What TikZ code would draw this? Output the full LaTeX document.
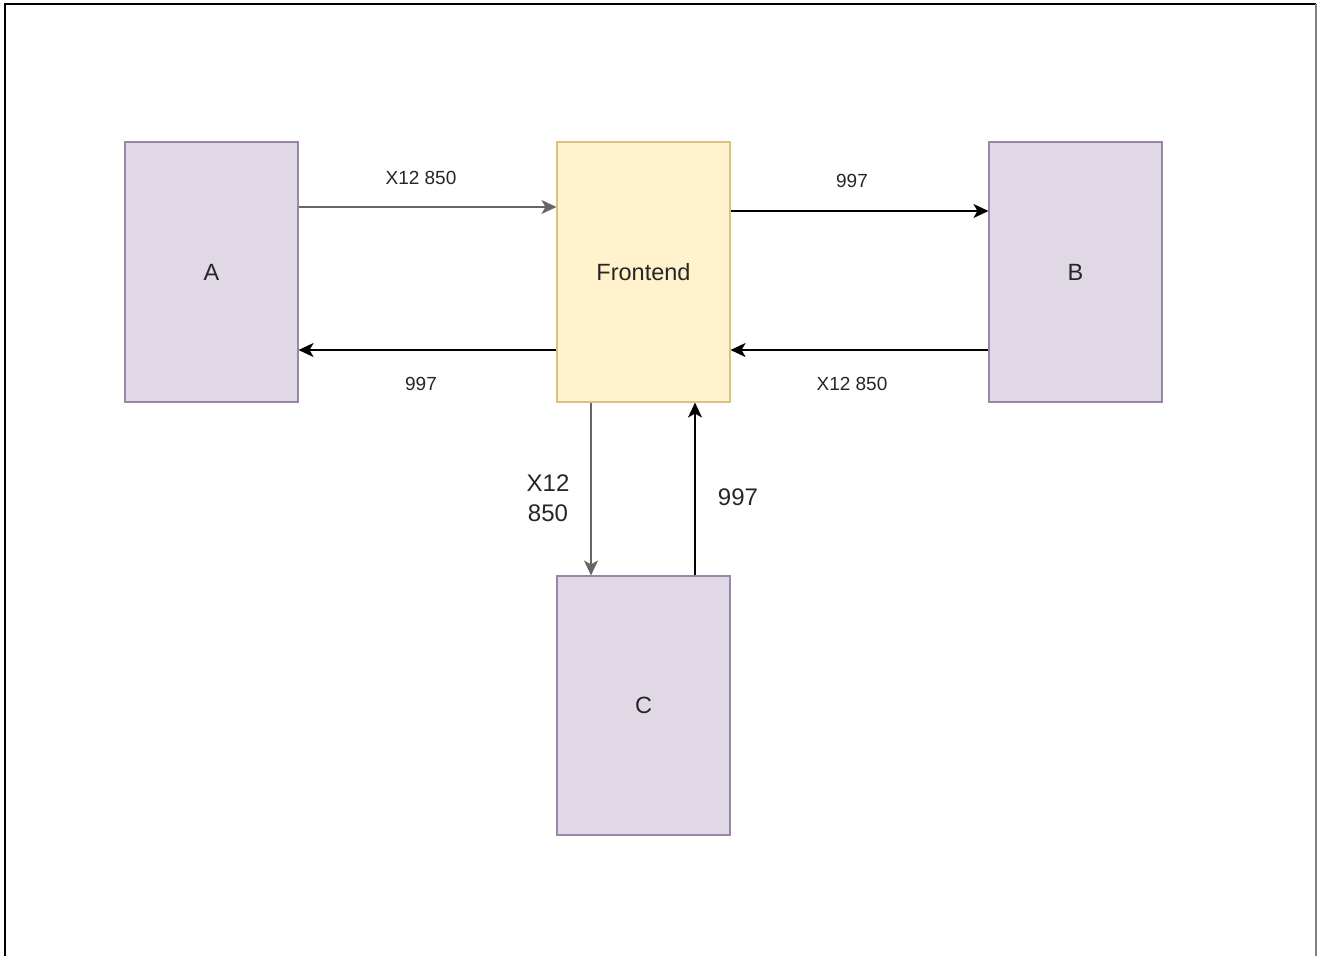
\documentclass[tikz,border=0pt]{standalone}
\usepackage{fontspec}
\setmainfont{Liberation Sans}
\usetikzlibrary{arrows.meta}
\definecolor{sysfill}{HTML}{E1D8E6}
\definecolor{sysline}{HTML}{9A86A8}
\definecolor{hubfill}{HTML}{FFF2CC}
\definecolor{hubline}{HTML}{DCC27A}

\begin{document}
\begin{tikzpicture}[x=1pt,y=-1pt,line width=1.8,
  sys/.style={draw=sysline,fill=sysfill,line width=1.1,minimum width=173pt,minimum height=260pt,inner sep=0pt,font=\fontsize{23.5}{27}\selectfont,text=black!85},
  hub/.style={sys,draw=hubline,fill=hubfill},
  flow/.style={-{Stealth[length=15pt,width=14pt,inset=4pt]}},
  lbl/.style={font=\fontsize{19}{22}\selectfont,text=black!85},
  biglbl/.style={font=\fontsize{24}{30}\selectfont,text=black!85,align=center}]
		\useasboundingbox (0,0) rectangle (1317,956);
		\draw[line width=2] (5,956)--(5,4)--(1316,4);
		\draw[line width=2,gray] (1316,4)--(1316,956);
		% boxes
		\node[sys] (A) at (211.5,272) {A};
		\node[hub] (F) at (643.5,272) {Frontend};
		\node[sys] (B) at (1075.5,272) {B};
		\node[sys,minimum height=259pt] (C) at (643.5,705.5) {C};
		% A <-> Frontend
		\draw[flow,black!60] (A.east |- 0,207)--(F.west |- 0,207);
		\draw[flow] (F.west |- 0,350)--(A.east |- 0,350);
		\node[lbl] (aout) at (421,178) {X12 850};
		\node[lbl] (ain) at (421,384) {997};
		% Frontend <-> B
		\draw[flow] (F.east |- 0,211)--(B.west |- 0,211);
		\draw[flow] (B.west |- 0,350)--(F.east |- 0,350);
		\node[lbl] (bout) at (852,181) {997};
		\node[lbl] (bin) at (852,384) {X12 850};
		% Frontend <-> C
		\draw[flow,black!60] (F.south -| 591,0)--(C.north -| 591,0);
		\draw[flow] (C.north -| 695,0)--(F.south -| 695,0);
		\node[biglbl] (cout) at (548,498) {X12\\850};
		\node[biglbl] (cin) at (738,497) {997};
	\end{tikzpicture}
\end{document}
